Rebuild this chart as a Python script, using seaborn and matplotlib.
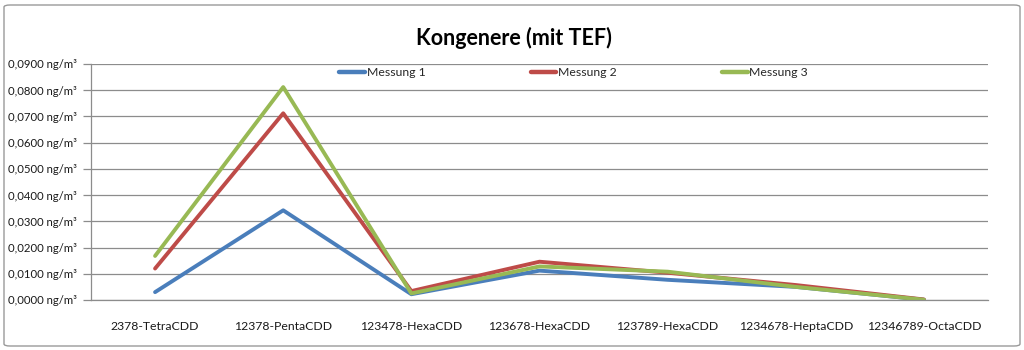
import numpy as np
import pandas as pd
import matplotlib
matplotlib.use("Agg")
import matplotlib.pyplot as plt
from matplotlib.ticker import FuncFormatter, FixedLocator
from matplotlib.patches import FancyBboxPatch
import seaborn as sns

# Congeners and measured concentrations (ng/m³, with TEF)
categories = ["2378-TetraCDD", "12378-PentaCDD", "123478-HexaCDD", "123678-HexaCDD",
              "123789-HexaCDD", "1234678-HeptaCDD", "12346789-OctaCDD"]
messung_1 = [0.0030, 0.0342, 0.0022, 0.0112, 0.0077, 0.0050, 0.0001]
messung_2 = [0.0120, 0.0712, 0.0034, 0.0146, 0.0104, 0.0057, 0.0002]
messung_3 = [0.0168, 0.0812, 0.0025, 0.0128, 0.0108, 0.0050, 0.0001]
series_names = ["Messung 1", "Messung 2", "Messung 3"]
y_ticks = [0.0, 0.01, 0.02, 0.03, 0.04, 0.05, 0.06, 0.07, 0.08, 0.09]

sns.set_theme(style="white")
plt.rcParams["font.family"] = ["Lato", "DejaVu Sans"]

rows = []
for name, vals in zip(series_names, [messung_1, messung_2, messung_3]):
    for i, v in enumerate(vals):
        rows.append({"pos": i, "wert": v, "serie": name})
df = pd.DataFrame(rows)

palette = {"Messung 1": "#4A7EBB", "Messung 2": "#BE4B48", "Messung 3": "#98B954"}

fig = plt.figure(figsize=(10.24, 3.5), dpi=100)
ax = fig.add_axes([91 / 1024, 50 / 350, 897 / 1024, 236 / 350])

sns.lineplot(data=df, x="pos", y="wert", hue="serie", palette=palette,
             linewidth=2.8, ax=ax, sort=False, legend=True)

grid_col = "#8c8c8c"
ax.set_xlim(-0.5, len(categories) - 0.5)
ax.set_ylim(0, 0.09)
ax.yaxis.set_major_locator(FixedLocator(y_ticks))
ax.yaxis.set_major_formatter(FuncFormatter(
    lambda v, p: f"{v:.4f}".replace(".", ",") + " ng/m³"))
ax.grid(axis="y", color=grid_col, linewidth=0.9)
ax.set_axisbelow(True)

# category labels centred, tick marks on the category boundaries
ax.set_xticks(np.arange(len(categories)))
ax.set_xticklabels(categories)
ax.set_xticks(np.arange(len(categories) + 1) - 0.5, minor=True)
ax.tick_params(axis="x", which="major", length=0, pad=15, labelsize=8.8, colors="#1a1a1a")
ax.tick_params(axis="x", which="minor", length=5, width=0.9, color=grid_col, direction="out")
ax.tick_params(axis="y", which="major", length=6, width=0.9, color=grid_col,
               direction="out", left=True, labelsize=8.2, labelcolor="#1a1a1a", pad=4)

for s in ["top", "right"]:
    ax.spines[s].set_visible(False)
for s in ["left", "bottom"]:
    ax.spines[s].set_color(grid_col)
    ax.spines[s].set_linewidth(0.9)

ax.set_xlabel("")
ax.set_ylabel("")

leg = ax.legend(loc="center", bbox_to_anchor=(0.538, 0.962), ncol=3, frameon=False,
                fontsize=8.8, handlelength=2.1, handletextpad=0.15, columnspacing=8.6,
                borderaxespad=0)
for line in leg.get_lines():
    line.set_linewidth(3.2)

fig.text(0.502, 1 - 38 / 350, "Kongenere (mit TEF)", ha="center", va="center",
         fontsize=15.5, fontweight="bold", color="#000000")

# outer chart frame
frame = FancyBboxPatch((4 / 1024, 4 / 350), 1016 / 1024, 341 / 350,
                       boxstyle="round,pad=0,rounding_size=0.006",
                       transform=fig.transFigure, fill=False,
                       edgecolor="#9a9a9a", linewidth=1.0)
fig.patches.append(frame)

fig.savefig("out.png", dpi=100)
